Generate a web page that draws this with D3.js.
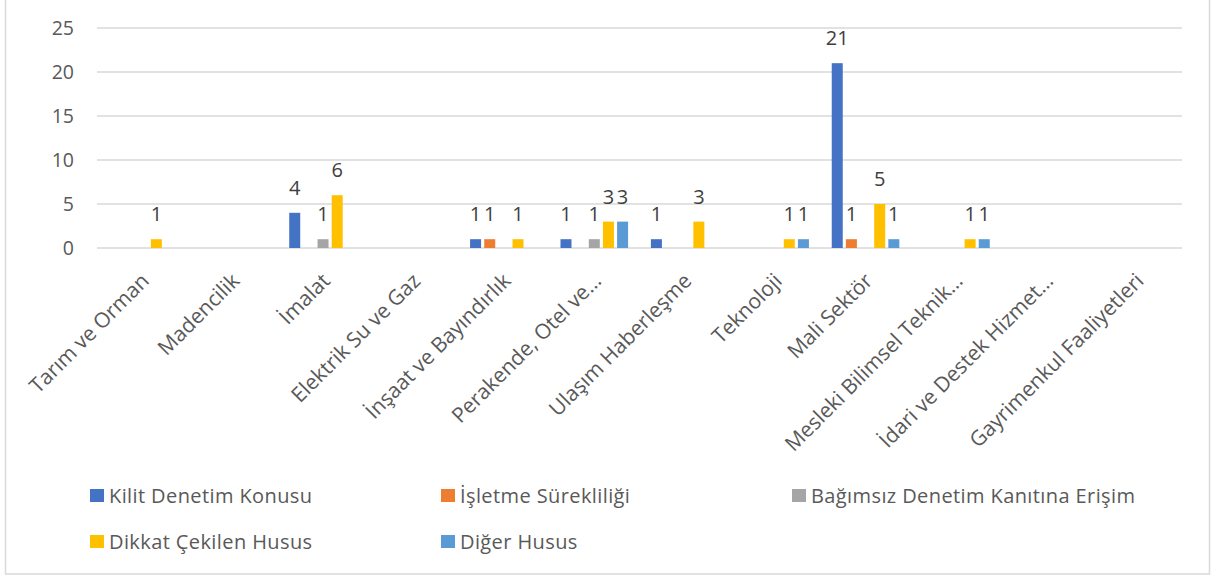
<!DOCTYPE html>
<html><head><meta charset="utf-8">
<script src="https://cdn.jsdelivr.net/npm/d3@7"></script>
<style>
body{margin:0;background:#fff;}
svg{display:block;font-family:"Open Sans","Noto Sans",sans-serif;}
</style></head>
<body>
<svg id="chart" width="1211" height="579"></svg>
<script>
const categories = ["Tarım ve Orman","Madencilik","İmalat","Elektrik Su ve Gaz","İnşaat ve Bayındırlık","Perakende, Otel ve…","Ulaşım Haberleşme","Teknoloji","Mali Sektör","Mesleki Bilimsel Teknik…","İdari ve Destek Hizmet…","Gayrimenkul Faaliyetleri"];
const seriesNames = ["Kilit Denetim Konusu","İşletme Sürekliliği","Bağımsız Denetim Kanıtına Erişim","Dikkat Çekilen Husus","Diğer Husus"];
const seriesColors = ["#4472C4","#ED7D31","#A5A5A5","#FFC000","#5B9BD5"];
const kilitDenetim   = [null,null,4,null,1,1,1,null,21,null,null,null];
const isletmeSurek   = [null,null,null,null,1,null,null,null,1,null,null,null];
const bagimsizErisim = [null,null,1,null,null,1,null,null,null,null,null,null];
const dikkatCekilen  = [1,null,6,null,1,3,3,1,5,1,null,null];
const digerHusus     = [null,null,null,null,null,3,null,1,1,1,null,null];
const yTicks = [0,5,10,15,20,25];

const seriesValues = [kilitDenetim,isletmeSurek,bagimsizErisim,dikkatCekilen,digerHusus];
const svg = d3.select("#chart");
const pLeft = 97, pRight = 1182, pTop = 28, pBottom = 248;

svg.append("rect").attr("x",5.5).attr("y",-2).attr("width",1204).attr("height",576)
  .attr("fill","#fff").attr("stroke","#d9d9d9").attr("stroke-width",1.5);

const x0 = d3.scaleBand().domain(categories).range([pLeft,pRight]).paddingInner(0).paddingOuter(0);
const innerPad = (x0.bandwidth() - 5*14.15)/2;
const x1 = d3.scaleBand().domain(d3.range(5)).range([innerPad, x0.bandwidth()-innerPad]);
const y = d3.scaleLinear().domain([0,25]).range([pBottom,pTop]);

// gridlines
svg.append("g").selectAll("line").data(yTicks).join("line")
  .attr("x1",pLeft).attr("x2",pRight).attr("y1",d=>y(d)).attr("y2",d=>y(d))
  .attr("stroke","#d9d9d9").attr("stroke-width",1.5);

// y axis labels
const yAxis = d3.axisLeft(y).tickValues(yTicks).tickSize(0).tickPadding(0);
const ya = svg.append("g").attr("transform",`translate(74,0)`).call(yAxis);
ya.select(".domain").remove();
ya.selectAll("text").attr("font-size",19.5).attr("fill","#595959").attr("font-family","Open Sans").attr("dy","0.35em");

// bars
const flat = [];
seriesValues.forEach((arr,si)=>arr.forEach((v,ci)=>{ if(v!==null) flat.push({si,ci,v}); }));
const bw = 11;
svg.append("g").selectAll("rect").data(flat).join("rect")
  .attr("x",d=>x0(categories[d.ci])+x1(d.si)+(x1.bandwidth()-bw)/2)
  .attr("width",bw)
  .attr("y",d=>y(d.v)).attr("height",d=>y(0)-y(d.v))
  .attr("fill",d=>seriesColors[d.si]);

// data labels
svg.append("g").selectAll("text").data(flat).join("text")
  .attr("x",d=>x0(categories[d.ci])+x1(d.si)+x1.bandwidth()/2)
  .attr("y",d=>y(d.v)-18)
  .attr("text-anchor","middle").attr("font-size",20).attr("fill","#404040")
  .text(d=>d.v);

// x axis labels
const xAxis = d3.axisBottom(x0).tickSize(0).tickPadding(0);
const xa = svg.append("g").attr("transform",`translate(0,${pBottom})`).call(xAxis);
xa.select(".domain").remove();
xa.selectAll("text")
  .attr("font-size",21).attr("fill","#595959").attr("font-family","Open Sans")
  .attr("text-anchor","end").attr("y",0).attr("dy","0.35em")
  .attr("transform",`translate(3,29) rotate(-45)`);

// legend
const legendPos = [[90,496],[441,496],[792,496],[90,542],[441,542]];
const lg = svg.append("g").selectAll("g").data(seriesNames).join("g")
  .attr("transform",(d,i)=>`translate(${legendPos[i][0]},${legendPos[i][1]})`);
lg.append("rect").attr("x",0).attr("y",-7).attr("width",14).attr("height",13).attr("fill",(d,i)=>seriesColors[i]);
lg.append("text").attr("x",19).attr("dy","0.35em").attr("font-size",20).attr("letter-spacing",0.4)
  .attr("fill","#595959").text(d=>d);
</script>
</body></html>
